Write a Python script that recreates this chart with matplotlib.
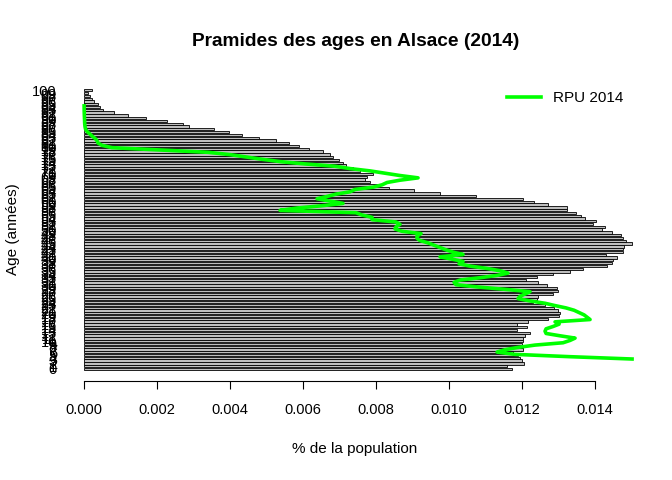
import numpy as np
import matplotlib
matplotlib.use("Agg")
import matplotlib.pyplot as plt

# part de la population par age (0 a 100 ans)
ages = np.arange(0, 101)
pop = [0.011734, 0.011581, 0.012055, 0.011992, 0.011945, 0.011899, 0.011762, 0.012019, 0.012036, 0.011992,
       0.012019, 0.012036, 0.012082, 0.012219, 0.011855, 0.012129, 0.011855, 0.012156, 0.012721, 0.013014,
       0.013041, 0.012986, 0.012877, 0.012630, 0.012301, 0.012411, 0.012438, 0.012849, 0.012986, 0.012959,
       0.012685, 0.012438, 0.012110, 0.012411, 0.012849, 0.013315, 0.013671, 0.014329, 0.014466, 0.014493,
       0.014603, 0.014301, 0.014767, 0.014767, 0.014795, 0.015014, 0.014849, 0.014767, 0.014712, 0.014466,
       0.014192, 0.014274, 0.013945, 0.014027, 0.013726, 0.013616, 0.013479, 0.013233, 0.013233, 0.012712,
       0.012329, 0.012027, 0.010740, 0.009753, 0.009041, 0.008356, 0.008110, 0.007836, 0.007699, 0.007753,
       0.007918, 0.007562, 0.007370, 0.007178, 0.007096, 0.006986, 0.006822, 0.006740, 0.006548, 0.006164,
       0.005890, 0.005616, 0.005260, 0.004795, 0.004329, 0.003973, 0.003562, 0.002877, 0.002712, 0.002274,
       0.001699, 0.001205, 0.000822, 0.000521, 0.000438, 0.000384, 0.000274, 0.000219, 0.000164, 0.000110,
       0.000219]

# courbe RPU 2014 (ordonnees dans l'echelle du barplot)
rpu_y = np.arange(5, 115)
rpu = [0.015014, 0.013315, 0.011808, 0.011315, 0.011534, 0.011890, 0.012356, 0.013123, 0.013315, 0.013452,
       0.013041, 0.012658, 0.012630, 0.012658, 0.012849, 0.013014, 0.012904, 0.013863, 0.013781, 0.013699,
       0.013562, 0.013425, 0.013205, 0.012904, 0.012630, 0.012219, 0.011890, 0.011945, 0.012082, 0.012219,
       0.011534, 0.010795, 0.010192, 0.010137, 0.010301, 0.010849, 0.011315, 0.011616, 0.011397, 0.011041,
       0.010575, 0.010274, 0.010384, 0.010082, 0.009753, 0.010384, 0.010110, 0.009918, 0.009753, 0.009589,
       0.009425, 0.009205, 0.009123, 0.009123, 0.009233, 0.008712, 0.008521, 0.008548, 0.008658, 0.008548,
       0.007890, 0.007890, 0.007616, 0.007452, 0.005370, 0.005836, 0.006521, 0.007096, 0.006740, 0.006384,
       0.006658, 0.006904, 0.007288, 0.007425, 0.007918, 0.008164, 0.008301, 0.008658, 0.009151, 0.008658,
       0.008247, 0.007836, 0.007288, 0.006877, 0.006055, 0.005370, 0.004877, 0.004438, 0.004000, 0.003397,
       0.002082, 0.000767, 0.000493, 0.000384, 0.000356, 0.000301, 0.000219, 0.000151, 0.000082, 0.000041,
       0.000027, 0.000020, 0.000016, 0.000014, 0.000011, 0.000008, 0.000006, 0.000004, 0.000003, 0.000002]

xticks = [0.000, 0.002, 0.004, 0.006, 0.008, 0.010, 0.012, 0.014]

plt.rcParams['font.family'] = ['Liberation Sans', 'DejaVu Sans']

W, H = 672, 480
fig = plt.figure(figsize=(W / 100, H / 100), dpi=100)
ax = fig.add_axes([62.1 / W, 98.6 / H, 591.9 / W, 303.5 / H])

pos = 0.7 + 1.2 * ages
ax.barh(pos, pop, height=1.0, color='#bebebe', edgecolor='black', linewidth=0.6)
line, = ax.plot(rpu, rpu_y, color='#00ff00', lw=2.6, solid_joinstyle='round')

ax.set_xlim(-0.000601, 0.015615)
ax.set_ylim(-4.64, 126.04)

for s in ['top', 'right', 'left']:
    ax.spines[s].set_visible(False)
ax.spines['bottom'].set_bounds(0, 0.014)
ax.spines['bottom'].set_linewidth(0.8)

ax.set_xticks(xticks, labels=[f"{v:.3f}" for v in xticks])
ax.tick_params(axis='x', length=5.5, width=0.8, pad=10, labelsize=10.5)
ax.set_yticks(pos, labels=[str(a) for a in ages])
ax.tick_params(axis='y', length=0, pad=3.7, labelsize=10.5)

fig.text(356 / W, 1 - 42 / H, "Pramides des ages en Alsace (2014)", ha='center', va='center',
         fontsize=13.8, fontweight='bold')
fig.text(355 / W, 1 - 449 / H, "% de la population", ha='center', va='center', fontsize=11)
fig.text(13 / W, 1 - 229 / H, "Age (années)", ha='center', va='center', rotation=90, fontsize=11)

ax.legend([line], ["RPU 2014"], loc='center left', bbox_to_anchor=(507 / W, 1 - 98 / H),
          bbox_transform=fig.transFigure, frameon=False, borderpad=0, borderaxespad=0,
          handlelength=2.2, handletextpad=0.8, fontsize=11)

fig.savefig("out.png", dpi=100)
